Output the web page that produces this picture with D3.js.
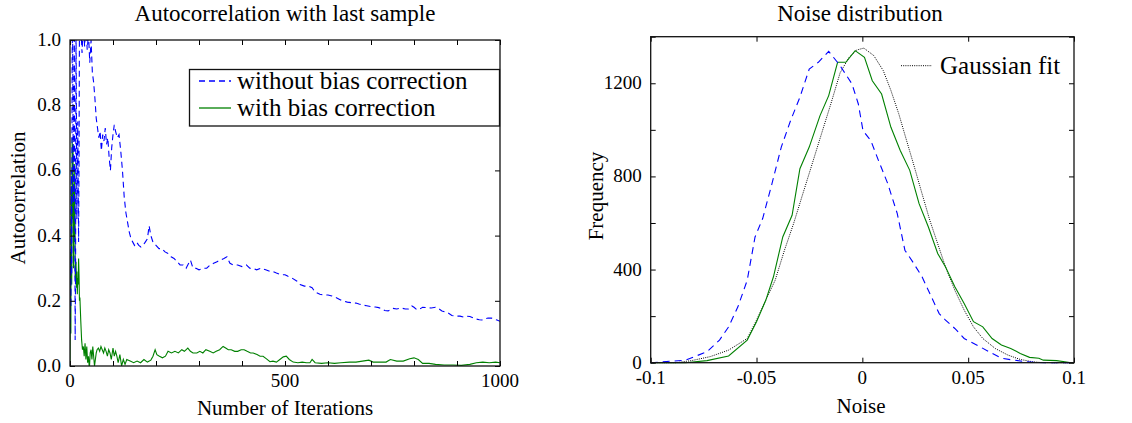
<!DOCTYPE html>
<html>
<head>
<meta charset="utf-8">
<script src="https://cdn.jsdelivr.net/npm/d3@7"></script>
<style>
  body { margin: 0; background: #fff; }
</style>
</head>
<body>
<div id="chart"></div>
<script>
// left panel: autocorrelation vs iteration  [iteration, value]
const withoutBias = [[0,0.10],[1,0.32],[2,0.18],[3,0.60],[4,0.28],[5,0.95],[6,1.05],[8,0.50],[10,1.05],[12,0.08],[13,0.30],[14,1.05],[16,0.45],[18,0.75],[20,0.38],[21,0.62],[22,1.05],[25,1.05],[28,0.96],[31,1.05],[34,0.98],[37,1.05],[40,0.97],[43,1.02],[46,0.93],[49,1.0],[52,0.90],[55,0.87],[58,0.82],[61,0.76],[64,0.73],[67,0.70],[70,0.72],[73,0.66],[76,0.71],[79,0.69],[82,0.73],[85,0.68],[88,0.70],[91,0.64],[94,0.60],[97,0.67],[100,0.71],[103,0.74],[106,0.72],[110,0.70],[114,0.71],[118,0.66],[122,0.60],[126,0.52],[130,0.47],[134,0.44],[138,0.41],[142,0.39],[146,0.38],[150,0.37],[155,0.38],[160,0.37],[165,0.365],[170,0.37],[175,0.38],[180,0.39],[184,0.43],[188,0.40],[193,0.38],[200,0.37],[207,0.36],[214,0.36],[221,0.35],[228,0.345],[235,0.335],[242,0.33],[249,0.32],[256,0.31],[263,0.31],[270,0.30],[276,0.315],[280,0.325],[286,0.30],[293,0.30],[300,0.295],[310,0.30],[318,0.30],[326,0.31],[334,0.315],[342,0.32],[350,0.325],[358,0.33],[365,0.335],[372,0.315],[380,0.31],[390,0.31],[400,0.305],[410,0.31],[418,0.30],[426,0.30],[434,0.295],[445,0.30],[455,0.295],[465,0.29],[472,0.29],[480,0.285],[490,0.28],[500,0.28],[507,0.275],[516,0.27],[528,0.26],[535,0.25],[545,0.245],[555,0.245],[563,0.24],[570,0.227],[581,0.22],[590,0.218],[600,0.218],[609,0.215],[618,0.21],[626,0.205],[633,0.20],[645,0.196],[655,0.194],[665,0.193],[672,0.19],[680,0.187],[690,0.185],[700,0.182],[710,0.181],[718,0.179],[725,0.175],[732,0.17],[740,0.169],[750,0.177],[760,0.175],[770,0.178],[780,0.175],[787,0.175],[795,0.184],[800,0.18],[807,0.172],[815,0.176],[820,0.18],[830,0.179],[840,0.178],[850,0.18],[856,0.177],[865,0.169],[872,0.166],[879,0.163],[888,0.155],[898,0.153],[907,0.153],[915,0.15],[922,0.153],[930,0.152],[937,0.148],[945,0.144],[952,0.142],[958,0.141],[965,0.145],[972,0.147],[980,0.147],[986,0.144],[993,0.141],[1000,0.137]];

const withBias = [[0,0.0],[1,0.35],[2,0.1],[3,0.55],[4,0.25],[5,0.70],[6,0.45],[7,0.68],[8,0.30],[9,0.55],[10,0.38],[11,0.62],[12,0.28],[13,0.26],[14,0.32],[15,0.24],[16,0.29],[17,0.22],[18,0.27],[19,0.25],[20,0.33],[21,0.28],[22,0.20],[23,0.21],[25,0.14],[27,0.08],[29,0.05],[31,0.06],[33,0.03],[35,0.07],[37,0.02],[39,0.06],[41,0.01],[43,0.03],[45,-0.01],[47,0.04],[49,0.05],[51,0.02],[53,0.06],[55,0.03],[57,0.0],[59,0.02],[61,0.04],[63,0.05],[66,0.055],[69,0.045],[72,0.06],[75,0.05],[78,0.04],[81,0.055],[84,0.045],[87,0.03],[90,0.05],[93,0.04],[96,0.02],[100,0.055],[103,0.03],[106,0.045],[109,0.03],[112,0.01],[116,0.035],[120,0.0],[124,0.02],[128,0.005],[132,0.02],[140,0.015],[148,0.01],[156,0.015],[164,0.01],[172,0.02],[180,0.012],[188,0.018],[193,0.03],[198,0.05],[202,0.035],[208,0.03],[215,0.025],[222,0.03],[228,0.045],[236,0.04],[244,0.045],[252,0.04],[260,0.05],[266,0.045],[274,0.055],[280,0.045],[286,0.04],[295,0.04],[302,0.045],[309,0.04],[316,0.05],[325,0.045],[333,0.04],[340,0.045],[348,0.05],[356,0.06],[362,0.055],[368,0.05],[375,0.05],[383,0.045],[390,0.045],[398,0.05],[405,0.05],[412,0.045],[420,0.04],[426,0.04],[435,0.035],[442,0.03],[449,0.03],[457,0.022],[465,0.013],[472,0.015],[480,0.012],[488,0.02],[496,0.028],[503,0.03],[510,0.02],[519,0.012],[530,0.01],[540,0.012],[550,0.01],[558,0.01],[563,0.02],[570,0.01],[585,0.008],[600,0.01],[615,0.008],[630,0.01],[650,0.012],[665,0.012],[680,0.015],[695,0.018],[705,0.012],[720,0.012],[735,0.012],[745,0.02],[760,0.015],[775,0.015],[790,0.022],[800,0.025],[810,0.02],[820,0.008],[835,0.008],[850,0.005],[870,0.003],[890,0.003],[910,0.002],[930,0.005],[945,0.01],[960,0.012],[975,0.01],[990,0.012],[1000,0.01]];

// right panel: noise histograms  [noise, frequency]
const noiseWithout = [[-0.1,0],[-0.0997,0],[-0.0836,11],[-0.0734,47],[-0.0675,97],[-0.0632,154],[-0.0588,240],[-0.0544,354],[-0.0507,540],[-0.0471,619],[-0.0427,769],[-0.0383,926],[-0.0339,1040],[-0.0295,1140],[-0.0251,1261],[-0.0208,1290],[-0.0159,1337],[-0.0107,1278],[-0.0049,1197],[-0.0019,1111],[0.0003,997],[0.004,954],[0.0076,869],[0.012,769],[0.0165,640],[0.0201,483],[0.0238,433],[0.0282,369],[0.0326,283],[0.0363,211],[0.0393,183],[0.0437,147],[0.0481,104],[0.054,76],[0.0599,47],[0.0657,19],[0.0716,11],[0.0775,4],[0.0834,1],[0.09,0],[0.1,0]];

const noiseWith = [[-0.1,0],[-0.0836,0],[-0.0734,9],[-0.0632,29],[-0.0544,97],[-0.05,176],[-0.0456,269],[-0.042,369],[-0.0376,540],[-0.0332,633],[-0.0295,833],[-0.0251,926],[-0.02,1061],[-0.0159,1147],[-0.0117,1290],[-0.0078,1290],[-0.0034,1340],[0.001,1311],[0.0047,1211],[0.0091,1154],[0.0135,1011],[0.0179,911],[0.0224,826],[0.0268,683],[0.0312,583],[0.0356,469],[0.0393,411],[0.0437,326],[0.0481,254],[0.0525,176],[0.0569,154],[0.0613,104],[0.0657,76],[0.0701,61],[0.0746,40],[0.079,23],[0.0834,19],[0.0855,11],[0.0918,9],[0.098,1],[0.1,0]];

const gaussFit = [[-0.1,0],[-0.088,0],[-0.0807,9],[-0.0719,26],[-0.0632,54],[-0.0544,104],[-0.05,183],[-0.0456,269],[-0.0412,354],[-0.0368,483],[-0.0325,597],[-0.0281,726],[-0.0237,854],[-0.0193,983],[-0.0149,1111],[-0.0105,1245],[-0.0063,1311],[-0.0026,1343],[0.0007,1351],[0.0054,1319],[0.0099,1254],[0.0135,1169],[0.0172,1069],[0.0209,954],[0.0246,840],[0.0282,726],[0.0319,611],[0.0356,511],[0.0393,411],[0.0437,311],[0.0481,226],[0.0525,154],[0.0569,104],[0.0628,61],[0.0687,33],[0.0746,14],[0.0804,4],[0.0841,1],[0.092,0],[0.1,0]];

const leftTitle = "Autocorrelation with last sample";
const rightTitle = "Noise distribution";
const leftXTicks = [0, 500, 1000];
const leftYTicks = [0, 0.2, 0.4, 0.6, 0.8, 1.0];
const rightXTicks = [-0.1, -0.05, 0, 0.05, 0.1];
const rightYTicks = [0, 400, 800, 1200];

const width = 1132, height = 423;
const blue = "#0000ff", green = "#008000";
const tickLen = 5;
const serif = "'Liberation Serif', 'Times New Roman', 'DejaVu Serif', serif";

const svg = d3.select("#chart").append("svg")
  .attr("width", width).attr("height", height)
  .style("font-family", serif);

function label(g) {
  return g.append("text").style("font-family", serif).attr("fill", "#000");
}

// frame with inward ticks on all four sides
function frame(g, x, y, xMinor, yMinor, xLabels, yLabels, xFmt, yFmt) {
  const [x0, x1] = x.range(), [y0, y1] = y.range();
  g.append("g").attr("transform", `translate(0,${y0})`)
    .call(d3.axisBottom(x).tickValues(xMinor).tickSize(-tickLen).tickFormat(""))
    .call(a => a.select(".domain").remove());
  g.append("g").attr("transform", `translate(0,${y1})`)
    .call(d3.axisTop(x).tickValues(xMinor).tickSize(-tickLen).tickFormat(""))
    .call(a => a.select(".domain").remove());
  g.append("g").attr("transform", `translate(${x0},0)`)
    .call(d3.axisLeft(y).tickValues(yMinor).tickSize(-tickLen).tickFormat(""))
    .call(a => a.select(".domain").remove());
  g.append("g").attr("transform", `translate(${x1},0)`)
    .call(d3.axisRight(y).tickValues(yMinor).tickSize(-tickLen).tickFormat(""))
    .call(a => a.select(".domain").remove());
  g.selectAll(".tick line").attr("stroke", "#000");

  g.append("rect")
    .attr("x", x0).attr("y", y1).attr("width", x1 - x0).attr("height", y0 - y1)
    .attr("fill", "none").attr("stroke", "#111").attr("stroke-width", 1.3);

  xLabels.forEach(d => label(g)
    .attr("x", x(d)).attr("y", y0 + 21)
    .attr("text-anchor", "middle").style("font-size", "19px")
    .text(xFmt(d)));
  yLabels.forEach(d => label(g)
    .attr("x", x0 - 9).attr("y", y(d)).attr("dy", "0.32em")
    .attr("text-anchor", "end").style("font-size", "19px")
    .text(yFmt(d)));
}

// ---------- left panel ----------
const xL = d3.scaleLinear().domain([0, 1000]).range([70, 500]);
const yL = d3.scaleLinear().domain([0, 1]).range([366, 40]);
const gL = svg.append("g");

svg.append("clipPath").attr("id", "clipL").append("rect")
  .attr("x", 70).attr("y", 40).attr("width", 430).attr("height", 326);

const lineL = d3.line(d => xL(d[0]), d => yL(d[1]));
gL.append("path").attr("d", lineL(withBias)).attr("clip-path", "url(#clipL)")
  .attr("fill", "none").attr("stroke", green).attr("stroke-width", 1.1);
gL.append("path").attr("d", lineL(withoutBias)).attr("clip-path", "url(#clipL)")
  .attr("fill", "none").attr("stroke", blue).attr("stroke-width", 1.1)
  .attr("stroke-dasharray", "6,4");

frame(gL, xL, yL, d3.range(0, 1001, 100), leftYTicks, leftXTicks, leftYTicks,
  d => String(d), d => d.toFixed(1));

label(gL).attr("x", 285).attr("y", 21).attr("text-anchor", "middle")
  .style("font-size", "23px").text(leftTitle);
label(gL).attr("x", 285).attr("y", 415).attr("text-anchor", "middle")
  .style("font-size", "21px").text("Number of Iterations");
label(gL).attr("transform", "translate(25,198) rotate(-90)")
  .attr("text-anchor", "middle").style("font-size", "21px").text("Autocorrelation");

// legend
const leg = gL.append("g");
leg.append("rect").attr("x", 189.5).attr("y", 69.5).attr("width", 310).attr("height", 56.5)
  .attr("fill", "#fff").attr("stroke", "#111").attr("stroke-width", 1.3);
const legItems = [
  { label: "without bias correction", color: blue, dash: "6,4", y: 81 },
  { label: "with bias correction", color: green, dash: null, y: 108 }
];
legItems.forEach(it => {
  leg.append("line").attr("x1", 199).attr("x2", 231).attr("y1", it.y).attr("y2", it.y)
    .attr("stroke", it.color).attr("stroke-width", 1.3)
    .attr("stroke-dasharray", it.dash);
  label(leg).attr("x", 237).attr("y", it.y).attr("dy", "0.33em")
    .style("font-size", "25px").text(it.label);
});

// ---------- right panel ----------
const xR = d3.scaleLinear().domain([-0.1, 0.1]).range([650.7, 1074]);
const yR = d3.scaleLinear().domain([0, 1400]).range([362.7, 36.7]);
const gR = svg.append("g");
const lineR = d3.line(d => xR(d[0]), d => yR(d[1]));

gR.append("path").attr("d", lineR(gaussFit))
  .attr("fill", "none").attr("stroke", "#000").attr("stroke-width", 1)
  .attr("stroke-dasharray", "1,1.2");
gR.append("path").attr("d", lineR(noiseWith))
  .attr("fill", "none").attr("stroke", green).attr("stroke-width", 1.1);
gR.append("path").attr("d", lineR(noiseWithout))
  .attr("fill", "none").attr("stroke", blue).attr("stroke-width", 1.1)
  .attr("stroke-dasharray", "7,5");

frame(gR, xR, yR, rightXTicks, d3.range(0, 1401, 200), rightXTicks, rightYTicks,
  d => String(d), d => String(d));

label(gR).attr("x", 860).attr("y", 21).attr("text-anchor", "middle")
  .style("font-size", "23px").text(rightTitle);
label(gR).attr("x", 861).attr("y", 413).attr("text-anchor", "middle")
  .style("font-size", "21px").text("Noise");
label(gR).attr("transform", "translate(603,196) rotate(-90)")
  .attr("text-anchor", "middle").style("font-size", "21px").text("Frequency");

gR.append("line").attr("x1", 901).attr("x2", 932).attr("y1", 65.7).attr("y2", 65.7)
  .attr("stroke", "#000").attr("stroke-width", 1).attr("stroke-dasharray", "1,1.2");
label(gR).attr("x", 940).attr("y", 65.7).attr("dy", "0.33em")
  .style("font-size", "25px").text("Gaussian fit");
</script>
</body>
</html>
